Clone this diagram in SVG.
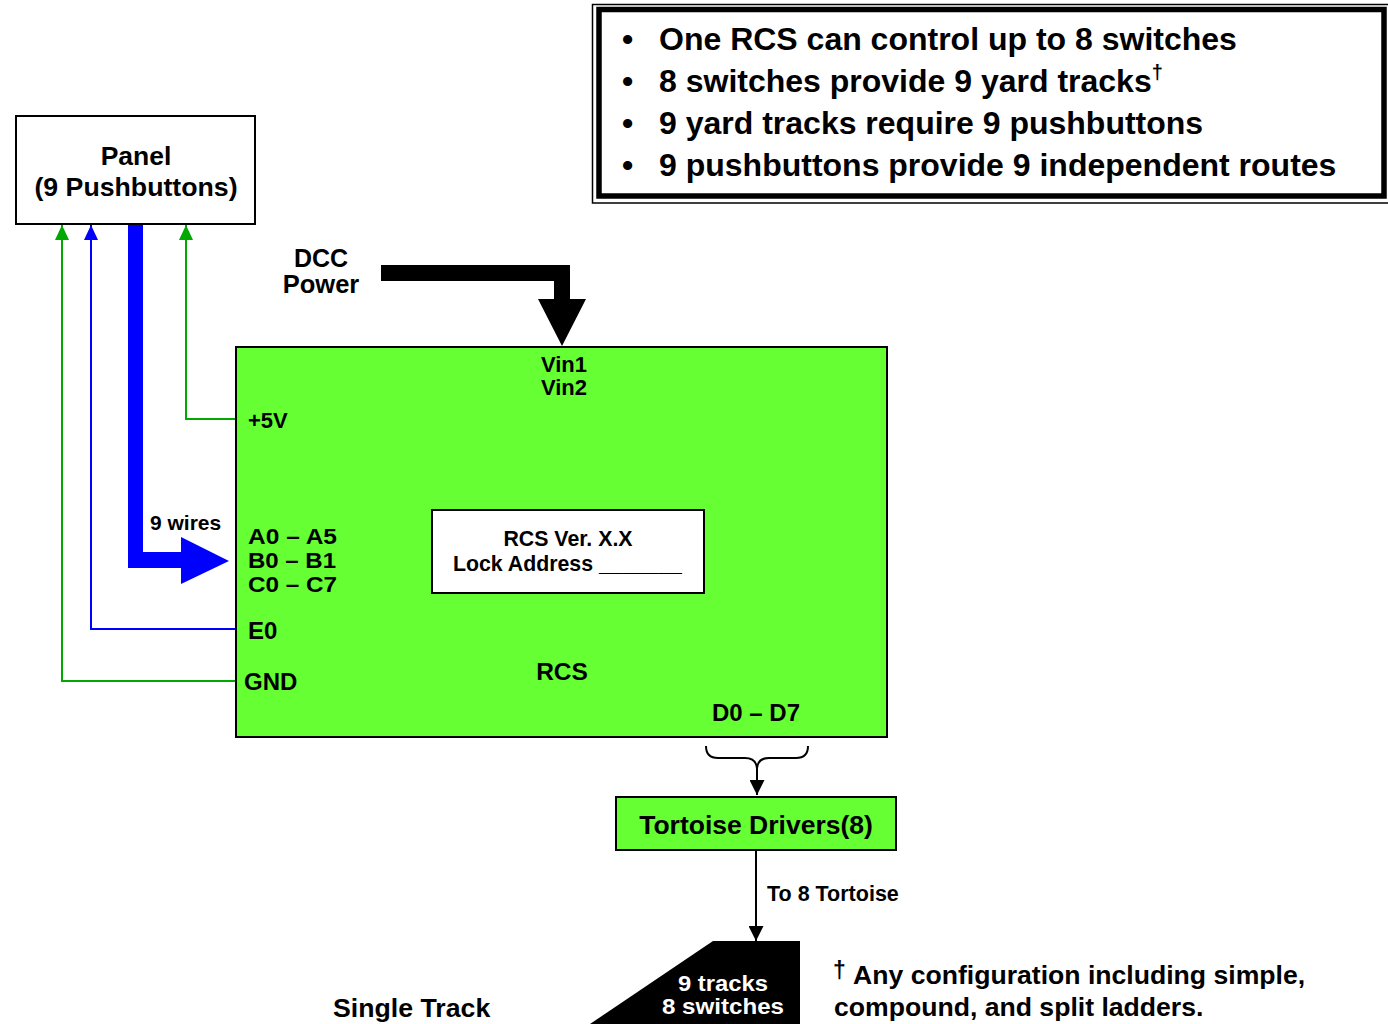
<svg xmlns="http://www.w3.org/2000/svg" width="1388" height="1024" viewBox="0 0 1388 1024">
  <style>
    text { font-family: "Liberation Sans", Arial, sans-serif; font-weight: bold; fill: #000; }
    .box { stroke: #000; stroke-width: 2; }
    .green { fill: #66ff33; }
    .white { fill: #fff; }
    .wire-g { fill: none; stroke: #00a800; stroke-width: 2; }
    .wire-b { fill: none; stroke: #0000ff; stroke-width: 2; }
    .wire-k { fill: none; stroke: #000; stroke-width: 2; }
    .mid { text-anchor: middle; }
  </style>
  <defs>
    <marker id="ahG" viewBox="0 0 15 14" refX="15" refY="7" markerWidth="15" markerHeight="14" markerUnits="userSpaceOnUse" orient="auto">
      <path d="M0,0 L15,7 L0,14 Z" fill="#00a800"/>
    </marker>
    <marker id="ahB" viewBox="0 0 15 14" refX="15" refY="7" markerWidth="15" markerHeight="14" markerUnits="userSpaceOnUse" orient="auto">
      <path d="M0,0 L15,7 L0,14 Z" fill="#0000ff"/>
    </marker>
    <marker id="ahK" viewBox="0 0 15 15" refX="15" refY="7.5" markerWidth="15" markerHeight="15" markerUnits="userSpaceOnUse" orient="auto">
      <path d="M0,0 L15,7.5 L0,15 Z" fill="#000"/>
    </marker>
  </defs>

  <!-- summary notes -->
  <g id="notes">
    <rect x="592.5" y="4.5" width="797" height="198.5" fill="#fff" stroke="#000" stroke-width="1.5"/>
    <rect x="599" y="9.5" width="785" height="186.5" fill="#fff" stroke="#000" stroke-width="5.5"/>
    <g font-size="32">
      <text x="622" y="50">•</text>
      <text x="659" y="50">One RCS can control up to 8 switches</text>
      <text x="622" y="92">•</text>
      <text x="659" y="92">8 switches provide 9 yard tracks<tspan font-size="20" dy="-13">†</tspan></text>
      <text x="622" y="134">•</text>
      <text x="659" y="134">9 yard tracks require 9 pushbuttons</text>
      <text x="622" y="176">•</text>
      <text x="659" y="176">9 pushbuttons provide 9 independent routes</text>
    </g>
  </g>

  <!-- connectors -->
  <g id="connectors">
    <!-- +5V supply to panel -->
    <polyline class="wire-g" points="236,419 186,419 186,225" marker-end="url(#ahG)"/>
    <!-- E0 to panel -->
    <polyline class="wire-b" points="236,629 91,629 91,225" marker-end="url(#ahB)"/>
    <!-- GND to panel -->
    <polyline class="wire-g" points="236,681 62,681 62,225" marker-end="url(#ahG)"/>
    <!-- 9 pushbutton wires into RCS -->
    <polygon fill="#0000ff" points="128,224 143,224 143,552 181,552 181,537 229,561 181,584 181,568 128,568"/>
    <text x="150" y="530" font-size="21">9 wires</text>
    <!-- DCC power feed -->
    <polygon fill="#000" points="381,265 570,265 570,299 586,299 562,346 538,299 554,299 554,281 381,281"/>
    <!-- D0-D7 bus brace into drivers -->
    <path class="wire-k" d="M706,746 Q706,758 718,758 L745,758 Q757,758 757,770 Q757,758 769,758 L796,758 Q808,758 808,746"/>
    <line class="wire-k" x1="757" y1="769" x2="757" y2="795" marker-end="url(#ahK)"/>
    <!-- drivers to tortoise machines -->
    <line class="wire-k" x1="756" y1="851" x2="756" y2="941" marker-end="url(#ahK)"/>
    <text x="767" y="901" font-size="21.5">To 8 Tortoise</text>
  </g>

  <!-- pushbutton panel -->
  <g id="panel">
    <rect class="box white" x="16" y="116" width="239" height="108"/>
    <text class="mid" x="136" y="165" font-size="26.5">Panel</text>
    <text class="mid" x="136" y="196" font-size="26.7">(9 Pushbuttons)</text>
  </g>

  <!-- DCC power label -->
  <g id="dcc-power">
    <text class="mid" x="321" y="267" font-size="25">DCC</text>
    <text class="mid" x="321" y="293" font-size="25.5">Power</text>
  </g>

  <!-- RCS controller -->
  <g id="rcs">
    <rect class="box green" x="236" y="347" width="651" height="390"/>
    <text class="mid" x="564" y="372" font-size="22">Vin1</text>
    <text class="mid" x="564" y="395" font-size="22">Vin2</text>
    <text x="248" y="428" font-size="22">+5V</text>
    <text x="248" y="544" font-size="22.5" textLength="89" lengthAdjust="spacingAndGlyphs">A0 – A5</text>
    <text x="248" y="568" font-size="22.5" textLength="88" lengthAdjust="spacingAndGlyphs">B0 – B1</text>
    <text x="248" y="592" font-size="22.5" textLength="89" lengthAdjust="spacingAndGlyphs">C0 – C7</text>
    <text x="248" y="639" font-size="24">E0</text>
    <text x="244" y="690" font-size="24">GND</text>
    <text class="mid" x="562" y="680" font-size="24.5">RCS</text>
    <text x="712" y="721" font-size="24">D0 – D7</text>
  </g>

  <!-- version / lock address label -->
  <g id="rcs-label">
    <rect class="box white" x="432" y="510" width="272" height="83"/>
    <text class="mid" x="568" y="546" font-size="21.3">RCS Ver. X.X</text>
    <text x="453" y="571" font-size="21.3">Lock Address _______</text>
  </g>

  <!-- tortoise drivers -->
  <g id="tortoise-drivers">
    <rect class="box green" x="616" y="797" width="280" height="53"/>
    <text class="mid" x="756" y="834" font-size="26.5">Tortoise Drivers(8)</text>
  </g>

  <!-- yard ladder -->
  <g id="yard">
    <polygon fill="#000" points="713,941 800,941 800,1024 590,1024"/>
    <text class="mid" x="723" y="991" font-size="22.5" textLength="90" lengthAdjust="spacingAndGlyphs" style="fill:#fff">9 tracks</text>
    <text class="mid" x="723" y="1014" font-size="22.5" textLength="122" lengthAdjust="spacingAndGlyphs" style="fill:#fff">8 switches</text>
  </g>

  <g id="single-track">
    <text x="333" y="1017" font-size="26.7">Single Track</text>
  </g>

  <!-- footnote -->
  <g id="footnote">
    <text x="833" y="978" font-size="23">†</text>
    <text x="853" y="984" font-size="26.6">Any configuration including simple,</text>
    <text x="834" y="1016" font-size="26.6">compound, and split ladders.</text>
  </g>
</svg>
